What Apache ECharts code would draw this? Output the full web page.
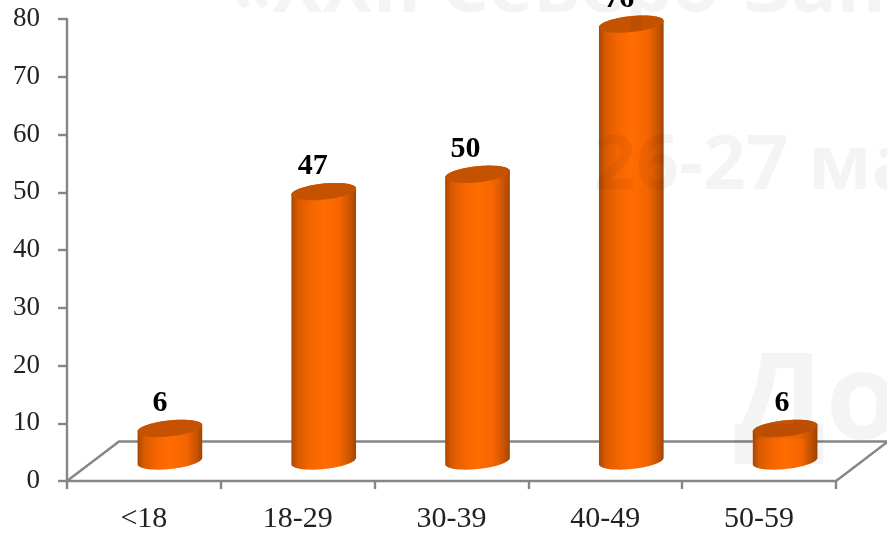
<!DOCTYPE html>
<html>
<head>
<meta charset="utf-8">
<title>Возрастные группы</title>
<script src="https://cdn.jsdelivr.net/npm/echarts@6/dist/echarts.min.js"></script>
<style>
  html, body { margin: 0; padding: 0; background: #fff; overflow: hidden; }
  #chart { width: 887px; height: 534px; }
</style>
</head>
<body>
<div id="chart"></div>
<script>
const categories = ['<18', '18-29', '30-39', '40-49', '50-59'];
const values = [6, 47, 50, 76, 6];
const yTicks = { min: 0, max: 80, interval: 10 };

// Perspective of the floor: how far the back edge sits from the front edge, in px
const FLOOR_DX = 52;
const FLOOR_DY = -39.5;
// Cylinders stand halfway across the floor
const BAR_DX = 26;
const TOP_DY = -18;
const BASE_DY = -20;
const RADIUS_X = 32.5;
const RADIUS_Y = 8;
const TILT = -6 * Math.PI / 180;
// Value labels sit up and to the left of each cylinder's axis
const LABEL_SHIFT_X = [-10, -11, -12, -12, -3];
const LABEL_SHIFT_Y = -25;

const AXIS_COLOR = '#868686';
const AXIS_WIDTH = 2.4;

const SIDE_GRADIENT = {
  type: 'linear', x: 0, y: 0, x2: 1, y2: 0,
  colorStops: [
    { offset: 0, color: '#a84800' },
    { offset: 0.1, color: '#d95a00' },
    { offset: 0.3, color: '#f56500' },
    { offset: 0.5, color: '#ff6c00' },
    { offset: 0.75, color: '#f56500' },
    { offset: 0.92, color: '#c55200' },
    { offset: 1, color: '#a04500' }
  ]
};

function ellipsePoint(cx, cy, t) {
  const ex = RADIUS_X * Math.cos(t);
  const ey = RADIUS_Y * Math.sin(t);
  return [
    cx + ex * Math.cos(TILT) - ey * Math.sin(TILT),
    cy + ex * Math.sin(TILT) + ey * Math.cos(TILT)
  ];
}

function ellipseArc(cx, cy, from, to, steps) {
  const pts = [];
  for (let i = 0; i <= steps; i++) {
    pts.push(ellipsePoint(cx, cy, from + (to - from) * i / steps));
  }
  return pts;
}

function renderCylinder(params, api) {
  const idx = api.value(0);
  const base = api.coord([idx, 0]);
  const top = api.coord([idx, api.value(1)]);
  const cx = base[0] + BAR_DX;
  const baseY = base[1] + BASE_DY;
  const topY = top[1] + TOP_DY;
  // Parameter of the rightmost point of the tilted ellipse
  const t0 = Math.atan2(-RADIUS_Y * Math.sin(TILT), RADIUS_X * Math.cos(TILT));
  const body = ellipseArc(cx, baseY, t0, t0 + Math.PI, 40)
    .concat(ellipseArc(cx, topY, t0 + Math.PI, t0 + 2 * Math.PI, 40));
  const cap = ellipseArc(cx, topY, 0, 2 * Math.PI, 72);
  return {
    type: 'group',
    children: [
      { type: 'polygon', shape: { points: body }, style: { fill: SIDE_GRADIENT } },
      { type: 'polygon', shape: { points: cap }, style: { fill: '#c45200' } },
      {
        type: 'text',
        style: {
          x: cx + LABEL_SHIFT_X[idx],
          y: topY + LABEL_SHIFT_Y,
          text: String(api.value(1)),
          font: 'bold 30px "Liberation Serif"',
          fill: '#000',
          align: 'center',
          verticalAlign: 'middle'
        }
      }
    ]
  };
}

function renderFloor(params) {
  const c = params.coordSys;
  const left = c.x, right = c.x + c.width, y = c.y + c.height;
  return {
    type: 'polyline',
    shape: {
      points: [
        [left, y],
        [left + FLOOR_DX, y + FLOOR_DY],
        [right + FLOOR_DX, y + FLOOR_DY],
        [right, y]
      ]
    },
    style: { fill: 'none', stroke: AXIS_COLOR, lineWidth: AXIS_WIDTH }
  };
}

const chart = echarts.init(document.getElementById('chart'));
chart.setOption({
  animation: false,
  backgroundColor: '#fff',
  grid: { left: 67, right: 51, top: 19, bottom: 52.5 },
  xAxis: {
    type: 'category',
    data: categories,
    boundaryGap: true,
    axisLine: { lineStyle: { color: AXIS_COLOR, width: AXIS_WIDTH } },
    axisTick: { show: true, interval: 0, alignWithLabel: false, length: 8, lineStyle: { color: AXIS_COLOR, width: AXIS_WIDTH } },
    axisLabel: {
      color: '#222', fontFamily: 'Liberation Serif', fontSize: 30, margin: 23,
      interval: 0
    }
  },
  yAxis: {
    type: 'value',
    min: yTicks.min,
    max: yTicks.max,
    interval: yTicks.interval,
    splitLine: { show: false },
    axisLine: { show: true, lineStyle: { color: AXIS_COLOR, width: AXIS_WIDTH } },
    axisTick: { show: true, length: 9, lineStyle: { color: AXIS_COLOR, width: AXIS_WIDTH } },
    axisLabel: { color: '#222', fontFamily: 'Liberation Serif', fontSize: 27, margin: 27, padding: [4, 0, 0, 0] }
  },
  series: [
    {
      type: 'custom',
      name: 'floor',
      coordinateSystem: 'cartesian2d',
      data: [0],
      encode: { x: -1, y: -1 },
      renderItem: renderFloor,
      silent: true,
      z: 1
    },
    {
      type: 'custom',
      name: 'count',
      coordinateSystem: 'cartesian2d',
      data: values.map((v, i) => [i, v]),
      encode: { x: 0, y: 1 },
      renderItem: renderCylinder,
      z: 2
    }
  ],
  // Pale overprint lettering, placed by its baseline
  graphic: [
    { text: '«XXII Северо-Запад', x: 226, baseline: 15, size: 75 },
    { text: '26-27 ма', x: 593, baseline: 192, size: 75 },
    { text: 'До', x: 734, baseline: 444, size: 120 }
  ].map(w => ({
    type: 'text',
    z: 100,
    silent: true,
    x: w.x,
    y: w.baseline + w.size * 0.175,
    style: {
      text: w.text,
      font: 'bold ' + w.size + 'px "Open Sans"',
      fill: 'rgba(0,0,0,0.045)',
      verticalAlign: 'bottom'
    }
  }))
});
</script>
</body>
</html>
